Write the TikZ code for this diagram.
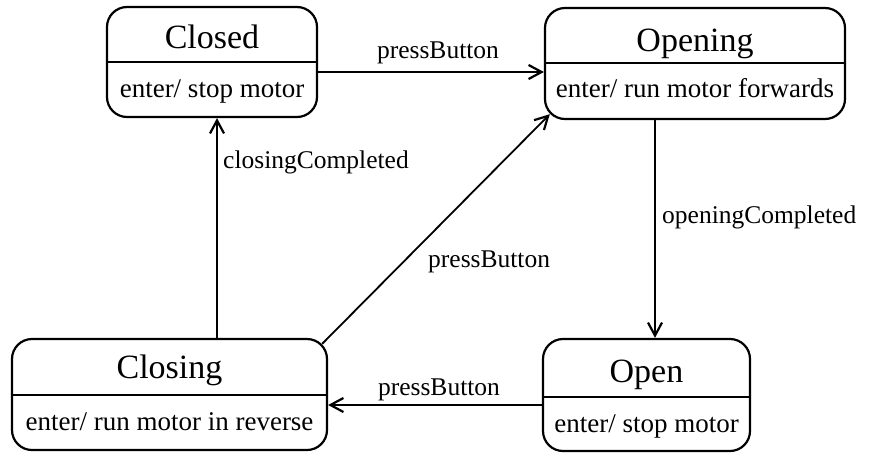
\documentclass[tikz,border=0pt]{standalone}
\usepackage{fontspec}
\setmainfont{Liberation Serif}
\usetikzlibrary{arrows.meta,calc}
\begin{document}
\begin{tikzpicture}[x=1pt,y=-1pt,
  statebox/.style={draw, line width=2.2pt, rounded corners=20pt, inner sep=0pt},
  divider/.style={line width=2.2pt},
  titletext/.style={font=\fontsize{34}{40}\selectfont, inner sep=0pt, anchor=base},
  bodytext/.style={font=\fontsize{27}{32}\selectfont, inner sep=0pt, anchor=base},
  lbl/.style={font=\fontsize{25.5}{30}\selectfont, inner sep=0pt},
  trans/.style={line width=2.2pt, -{Straight Barb[length=13pt,width=14pt,line width=2.2pt]}}]
\useasboundingbox (0,0) rectangle (869,453);

% states
\node[statebox, minimum width=210pt, minimum height=110pt] (closed) at (212,62) {};
\node[statebox, minimum width=300pt, minimum height=111pt] (opening) at (695,63.5) {};
\node[statebox, minimum width=315pt, minimum height=111pt] (closing) at (169.5,394.5) {};
\node[statebox, minimum width=207pt, minimum height=112pt] (open) at (646.5,395) {};

% dividers
\draw[divider] (closed.west |- 0,62) -- (closed.east |- 0,62);
\draw[divider] (opening.west |- 0,63) -- (opening.east |- 0,63);
\draw[divider] (closing.west |- 0,395) -- (closing.east |- 0,395);
\draw[divider] (open.west |- 0,397) -- (open.east |- 0,397);

% texts
\node[titletext] (closedT) at (212,48) {Closed};
\node[bodytext] (closedB) at (212,97) {enter/ stop motor};
\node[titletext] (openingT) at (695,51) {Opening};
\node[bodytext] (openingB) at (695,97) {enter/ run motor forwards};
\node[titletext] (closingT) at (169.5,378) {Closing};
\node[bodytext] (closingB) at (169.5,430) {enter/ run motor in reverse};
\node[titletext] (openT) at (646.5,382) {Open};
\node[bodytext] (openB) at (646.5,432) {enter/ stop motor};

% transitions
\draw[trans] (closed.east |- 0,72) -- (opening.west |- 0,72);
\draw[trans] (opening.south -| 655,0) -- (open.north -| 655,0);
\draw[trans] (open.west |- 0,405) -- (closing.east |- 0,405);
\draw[trans] (closing.north -| 217,0) -- (closed.south -| 217,0);
\draw[trans, line width=1.8pt] ($(closing.north east)+(-5.9,5.9)$) -- ($(opening.south west)+(5.9,-5.9)$);

% labels
\node[lbl, anchor=base] (l1) at (438,58) {pressButton};
\node[lbl, anchor=base west] (l2) at (662,223) {openingCompleted};
\node[lbl, anchor=base] (l3) at (439,395) {pressButton};
\node[lbl, anchor=base west] (l4) at (223,168) {closingCompleted};
\node[lbl, anchor=base west] (l5) at (428,267) {pressButton};
\end{tikzpicture}
\end{document}
